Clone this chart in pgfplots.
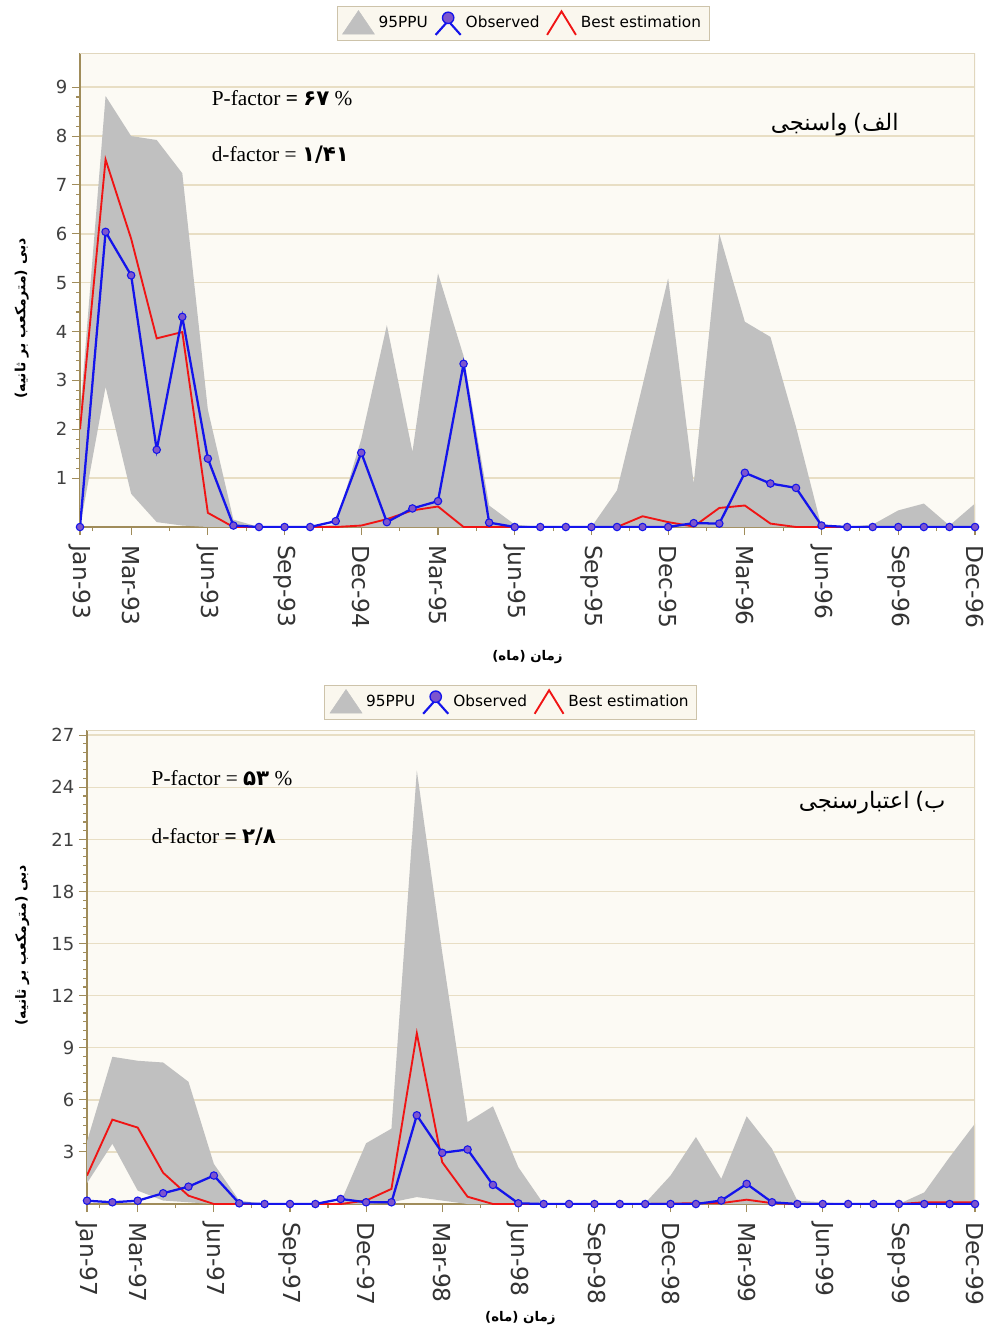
\documentclass[border=0pt]{standalone}
\usepackage{fontspec}
\setmainfont{Liberation Serif}
\newfontfamily\dejavu{DejaVu Sans}
\newfontfamily\fa[Script=Arabic]{DejaVu Sans}
\TeXXeTstate=1
\usepackage{pgfplots}
\usepackage{pgfplotstable}
\pgfplotsset{compat=1.18}
\usepgfplotslibrary{fillbetween}

\definecolor{band}{RGB}{192,192,192}
\definecolor{obsblue}{RGB}{20,20,235}
\definecolor{mkfill}{RGB}{125,85,205}
\definecolor{bestred}{RGB}{240,20,20}
\definecolor{bg}{RGB}{252,250,244}
\definecolor{gridc}{RGB}{232,222,196}
\definecolor{axc}{RGB}{160,140,90}
\definecolor{borderc}{RGB}{225,215,190}
\definecolor{legbg}{RGB}{250,247,238}
\definecolor{legdraw}{RGB}{205,195,170}

% idx upper lower obs best
\pgfplotstableread{
x up lo obs best
0 2.3 0 0 2.0
1 8.82 2.87 6.04 7.52
2 8.0 0.68 5.15 5.9
3 7.92 0.1 1.58 3.86
4 7.24 0.03 4.30 3.99
5 2.4 0 1.40 0.29
6 0.15 0 0.03 0
7 0 0 0 0
8 0 0 0 0
9 0 0 0 0
10 0.05 0 0.12 0
11 1.8 0 1.52 0.03
12 4.13 0 0.1 0.16
13 1.54 0 0.38 0.34
14 5.19 0 0.53 0.42
15 3.5 0 3.34 0
16 0.44 0 0.09 0
17 0.05 0 0 0
18 0 0 0 0
19 0 0 0 0
20 0 0 0 0
21 0.75 0 0 0
22 2.9 0 0 0.22
23 5.09 0 0 0.1
24 0.89 0 0.08 0.01
25 6.0 0 0.07 0.39
26 4.2 0 1.11 0.44
27 3.89 0 0.89 0.07
28 2.05 0 0.80 0
29 0 0 0.03 0
30 0 0 0 0
31 0.05 0 0 0
32 0.34 0 0 0
33 0.48 0 0 0
34 0.03 0 0 0
35 0.48 0 0 0
}\topdata

\pgfplotstableread{
x up lo obs best
0 3.6 1.2 0.19 1.64
1 8.48 3.47 0.1 4.86
2 8.25 0.77 0.19 4.4
3 8.15 0.2 0.62 1.8
4 7.04 0.1 1.0 0.48
5 2.31 0 1.64 0
6 0.2 0 0.04 0
7 0 0 0 0
8 0 0 0 0
9 0 0 0 0
10 0.1 0 0.29 0
11 3.5 0 0.1 0.2
12 4.34 0.1 0.1 0.87
13 24.97 0.4 5.11 9.83
14 14.5 0.2 2.95 2.41
15 4.72 0 3.14 0.42
16 5.63 0 1.1 0
17 2.12 0 0.04 0
18 0 0 0 0
19 0 0 0 0
20 0 0 0 0
21 0 0 0 0
22 0.05 0 0 0
23 1.64 0 0 0.02
24 3.86 0 0 0.05
25 1.45 0 0.2 0.05
26 5.05 0 1.16 0.25
27 3.18 0 0.1 0.05
28 0.19 0 0 0
29 0.1 0 0 0
30 0 0 0 0
31 0 0 0 0
32 0 0 0 0
33 0.67 0 0 0.1
34 2.7 0 0 0.1
35 4.63 0 0 0.1
}\botdata

\pgfplotsset{
  mychart/.style={
    scale only axis, xmin=0, xmax=35, ymin=0,
    axis background/.style={fill=bg},
    axis x line*=bottom, axis y line*=left,
    axis line style={axc, line width=1.1pt, -},
    every tick/.style={axc, line width=0.8pt},
    tick align=outside, major tick length=6pt, minor tick length=3pt,
    ymajorgrids, major grid style={gridc, line width=1.1pt},
    xtick={0,2,5,8,11,14,17,20,23,26,29,32,35},
    minor xtick={0.5,3.5,...,33.5},
    xticklabel style={rotate=-90, anchor=west, font=\dejavu\fontsize{17.5}{19}\selectfont, text=black!80},
    xticklabel shift=4pt,
    yticklabel style={font=\dejavu\fontsize{13.5}{15}\selectfont, text=black!75},
    /pgf/number format/assume math mode=true,
    legend columns=3,
    legend style={fill=legbg, draw=legdraw, font=\dejavu\fontsize{11.5}{13}\selectfont, anchor=center,
      inner ysep=3pt, inner xsep=4pt,
      /tikz/every even column/.append style={column sep=3pt},
      /tikz/every odd column/.append style={column sep=1pt}},
    legend cell align=left,
    xlabel={\fa\bfseries\fontsize{10}{12}\selectfont\beginR زمان (ماه)\endR},
    ylabel={\fa\bfseries\fontsize{10.5}{12}\selectfont\beginR دبی (مترمکعب بر ثانیه)\endR},
  },
  leg95/.style={legend image code/.code={\fill[band] (0cm,-0.3cm) -- (0.42cm,0.32cm) -- (0.84cm,-0.3cm) -- cycle;}},
  legobs/.style={legend image code/.code={\draw[obsblue, line width=1.6pt] (0.05cm,-0.32cm) -- (0.38cm,0.05cm) -- (0.71cm,-0.32cm); \fill[mkfill, draw=obsblue, line width=1pt] (0.38cm,0.13cm) circle (0.15cm);}},
  legbest/.style={legend image code/.code={\draw[bestred, line width=1.4pt] (0.05cm,-0.32cm) -- (0.43cm,0.3cm) -- (0.81cm,-0.32cm);}},
}

\begin{document}
\begin{tikzpicture}

% ---------- top ----------
\begin{axis}[mychart,
  at={(60pt,-395.25pt)}, anchor=south west,
  width=671.25pt, height=355.5pt,
  ymax=9.7, ytick={1,...,9}, minor y tick num=4,
  xticklabels={Jan-93,Mar-93,Jun-93,Sep-93,Dec-94,Mar-95,Jun-95,Sep-95,Dec-95,Mar-96,Jun-96,Sep-96,Dec-96},
  legend style={at={(0.495,1.063)}},
  xlabel style={at={(axis description cs:0.5,-0.274)}, anchor=center},
  ylabel style={at={(axis description cs:-0.065,0.44)}, anchor=center},
]
\addlegendimage{leg95}\addlegendentry{95PPU}
\addlegendimage{legobs}\addlegendentry{Observed}
\addlegendimage{legbest}\addlegendentry{Best estimation}
\addplot[draw=none, name path=tu, forget plot] table[x=x, y=up] {\topdata};
\addplot[draw=none, name path=tl, forget plot] table[x=x, y=lo] {\topdata};
\addplot[band, forget plot] fill between[of=tu and tl];
\addplot[bestred, line width=1.4pt, forget plot] table[x=x, y=best] {\topdata};
\addplot[obsblue, line width=1.7pt, mark=*, mark size=2.8pt, mark options={fill=mkfill, draw=obsblue, line width=0.8pt}, forget plot] table[x=x, y=obs] {\topdata};
\draw[borderc, line width=1.1pt] (rel axis cs:0,1) -- (rel axis cs:1,1) -- (rel axis cs:1,0);
\node[anchor=west, font=\fontsize{16}{18}\selectfont] at (rel axis cs:0.142,0.905) {P-factor \textbf{=} {\fa\bfseries ۶۷} \%};
\node[anchor=west, font=\fontsize{16}{18}\selectfont] at (rel axis cs:0.142,0.785) {d-factor = {\fa\bfseries ۱/۴۱}};
\node[anchor=east, font=\fontsize{17}{20}\selectfont] at (rel axis cs:0.92,0.848) {{\fa واسنجی}\ {\dejavu (}{\fa الف}};
\end{axis}

% ---------- bottom ----------
\begin{axis}[mychart,
  at={(65.25pt,-903pt)}, anchor=south west,
  width=666pt, height=355.5pt,
  ymax=27.3, ytick={3,6,...,27}, minor y tick num=5,
  xticklabels={Jan-97,Mar-97,Jun-97,Sep-97,Dec-97,Mar-98,Jun-98,Sep-98,Dec-98,Mar-99,Jun-99,Sep-99,Dec-99},
  legend style={at={(0.477,1.059)}},
  xlabel style={at={(axis description cs:0.488,-0.24)}, anchor=center},
  ylabel style={at={(axis description cs:-0.073,0.546)}, anchor=center},
]
\addlegendimage{leg95}\addlegendentry{95PPU}
\addlegendimage{legobs}\addlegendentry{Observed}
\addlegendimage{legbest}\addlegendentry{Best estimation}
\addplot[draw=none, name path=bu, forget plot] table[x=x, y=up] {\botdata};
\addplot[draw=none, name path=bl, forget plot] table[x=x, y=lo] {\botdata};
\addplot[band, forget plot] fill between[of=bu and bl];
\addplot[bestred, line width=1.4pt, forget plot] table[x=x, y=best] {\botdata};
\addplot[obsblue, line width=1.7pt, mark=*, mark size=2.8pt, mark options={fill=mkfill, draw=obsblue, line width=0.8pt}, forget plot] table[x=x, y=obs] {\botdata};
\draw[borderc, line width=1.1pt] (rel axis cs:0,1) -- (rel axis cs:1,1) -- (rel axis cs:1,0);
\node[anchor=west, font=\fontsize{16}{18}\selectfont] at (rel axis cs:0.0676,0.899) {P-factor = {\fa\bfseries ۵۳} \%};
\node[anchor=west, font=\fontsize{16}{18}\selectfont] at (rel axis cs:0.0676,0.774) {d-factor \textbf{=} {\fa\bfseries ۲/۸}};
\node[anchor=east, font=\fontsize{17}{20}\selectfont] at (rel axis cs:0.972,0.846) {{\fa اعتبارسنجی}\ {\dejavu (}{\fa ب}};
\end{axis}
\path (0pt,0pt) rectangle (738pt,-999pt);
\end{tikzpicture}
\end{document}
